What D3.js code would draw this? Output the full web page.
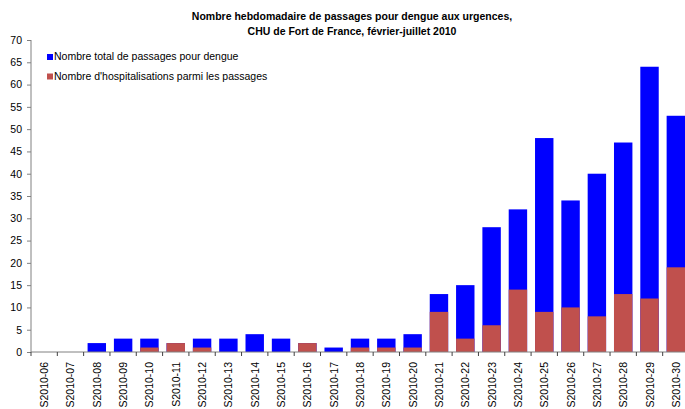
<!DOCTYPE html>
<html>
<head>
<meta charset="utf-8">
<script src="https://cdn.jsdelivr.net/npm/d3@7"></script>
<style>
  body { margin: 0; background: #fff; }
  svg { font-family: "Liberation Sans", Arial, sans-serif; }
</style>
</head>
<body>
<div id="chart"></div>
<script>
// weeks shown on the x axis
const weeks = ["S2010-06","S2010-07","S2010-08","S2010-09","S2010-10","S2010-11","S2010-12",
  "S2010-13","S2010-14","S2010-15","S2010-16","S2010-17","S2010-18","S2010-19","S2010-20",
  "S2010-21","S2010-22","S2010-23","S2010-24","S2010-25","S2010-26","S2010-27","S2010-28",
  "S2010-29","S2010-30"];

// total passages (blue, drawn behind)
const totalPassages = [0,0,2,3,3,2,3,3,4,3,2,1,3,3,4,13,15,28,32,48,34,40,47,64,53];
// hospitalisations among passages (red, drawn in front)
const hospitalisations = [0,0,0,0,1,2,1,0,0,0,2,0,1,1,1,9,3,6,14,9,10,8,13,12,19];

const yTicks = [0,5,10,15,20,25,30,35,40,45,50,55,60,65,70];
const titleLines = ["Nombre hebdomadaire de passages pour dengue aux urgences,",
  "CHU de Fort de France, février-juillet 2010"];
const legendLabels = ["Nombre total de passages pour dengue",
  "Nombre d'hospitalisations parmi les passages"];

const width = 685, height = 409;
const margin = { top: 40, left: 31, bottom: 57 };
const plotRight = 689;

const svg = d3.select("#chart").append("svg")
  .attr("width", width).attr("height", height);

const x = d3.scaleBand().domain(weeks)
  .range([margin.left, plotRight]).paddingInner(0.3).paddingOuter(0.15);
const y = d3.scaleLinear().domain([0, 70])
  .range([height - margin.bottom, margin.top]);

// title
svg.append("g").selectAll("text").data(titleLines).join("text")
  .attr("x", 352).attr("y", (d, i) => 20 + i * 15)
  .attr("text-anchor", "middle")
  .attr("font-size", 10.5).attr("font-weight", "bold")
  .text(d => d);

// bars
svg.append("g").selectAll("rect").data(weeks).join("rect")
  .attr("x", d => x(d)).attr("width", x.bandwidth())
  .attr("y", (d, i) => y(totalPassages[i]))
  .attr("height", (d, i) => y(0) - y(totalPassages[i]))
  .attr("fill", "#0000ff");

svg.append("g").selectAll("rect").data(weeks).join("rect")
  .attr("x", d => x(d)).attr("width", x.bandwidth())
  .attr("y", (d, i) => y(hospitalisations[i]))
  .attr("height", (d, i) => y(0) - y(hospitalisations[i]))
  .attr("fill", "#c0504d");

// y axis
const yAxis = svg.append("g")
  .attr("transform", `translate(${margin.left},0)`)
  .call(d3.axisLeft(y).tickValues(yTicks).tickSize(4).tickPadding(5));
yAxis.selectAll("text").attr("font-size", 10.5).attr("fill", "#000")
  .style("font-family", "Liberation Sans, Arial, sans-serif");
yAxis.selectAll("line, path").attr("stroke", "#808080");
yAxis.select("path").attr("d", `M0,${y(0)}V${y(70)}`);

// x axis with ticks at band boundaries
const xg = svg.append("g");
xg.append("line")
  .attr("x1", margin.left).attr("x2", plotRight)
  .attr("y1", y(0)).attr("y2", y(0))
  .attr("stroke", "#808080");
const step = x.step();
xg.selectAll(".tk").data(weeks).join("line")
  .attr("class", "tk")
  .attr("x1", d => x(d) - x.paddingInner() * step / 2)
  .attr("x2", d => x(d) - x.paddingInner() * step / 2)
  .attr("y1", y(0)).attr("y2", y(0) + 4)
  .attr("stroke", "#404040");
xg.selectAll("text").data(weeks).join("text")
  .attr("transform", d => `translate(${x(d) + x.bandwidth() / 2 + 4},${y(0) + 10}) rotate(-90)`)
  .attr("text-anchor", "end")
  .attr("font-size", 10.5)
  .text(d => d);

// legend
const legend = svg.append("g").selectAll("g").data(legendLabels).join("g")
  .attr("transform", (d, i) => `translate(47,${60 + i * 19.5})`);
legend.append("rect")
  .attr("x", 0).attr("y", -6).attr("width", 6).attr("height", 6)
  .attr("fill", (d, i) => i === 0 ? "#0000ff" : "#c0504d");
legend.append("text")
  .attr("x", 7).attr("y", 0)
  .attr("font-size", 10.5)
  .text(d => d);
</script>
</body>
</html>
